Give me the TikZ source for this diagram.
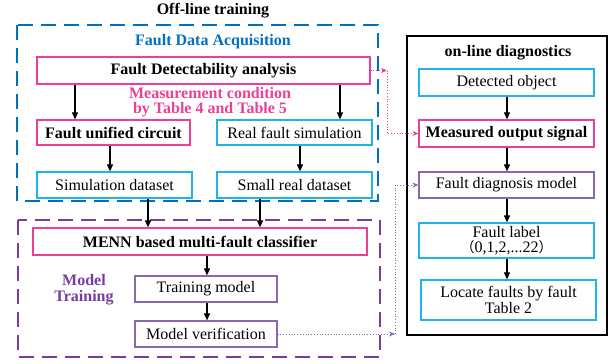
\documentclass[tikz,border=0pt]{standalone}
\usepackage{fontspec}
\setmainfont{Liberation Serif}
\newfontfamily\cjk{Noto Sans CJK SC}
\usetikzlibrary{arrows.meta}
\definecolor{cblue}{RGB}{0,112,192}
\definecolor{ccyan}{RGB}{30,180,232}
\definecolor{cmag}{RGB}{236,64,150}
\definecolor{cpur}{RGB}{120,60,160}
\definecolor{cpurl}{RGB}{135,105,175}
\tikzset{
  box/.style={draw,line width=1.2pt,minimum height=#1,inner sep=1pt,align=center,font=\fontsize{16}{17}\selectfont},
  cbox/.style={box=26pt,draw=ccyan},
  mbox/.style={box=26pt,draw=cmag,font=\fontsize{16}{17}\selectfont\bfseries},
  pbox/.style={box=26pt,draw=cpurl},
  arr/.style={line width=1.1pt,-{Triangle[length=7pt,width=6pt]}},
  mdot/.style={cmag,dotted,line width=0.8pt},
  pdot/.style={cpurl,dotted,line width=0.8pt},
  frame/.style={line width=2pt,dash pattern=on 15pt off 8pt},
  lbl/.style={font=\fontsize{16}{17}\selectfont\bfseries,align=center}
}
\begin{document}
\begin{tikzpicture}[x=1pt,y=-1pt]
\useasboundingbox (0,0) rectangle (614,364);
% frames
\draw[frame,cblue] (17,25) rectangle (378,201);
\draw[frame,cpur] (18,220) rectangle (380,357);
\draw[line width=1.2pt] (407,36) rectangle (607,335);
% labels
\node[lbl] (t1) at (213,11) {Off-line training};
\node[lbl,cblue] (t2) at (213,42) {Fault Data Acquisition};
\node[lbl,cmag,font=\fontsize{16}{15}\selectfont\bfseries] (t3) at (210,102) {Measurement condition\\by Table 4 and Table 5};
\node[lbl,cpur,font=\fontsize{16}{16}\selectfont\bfseries] (t4) at (84,290) {Model\\Training};
\node[lbl] (t5) at (508,53) {on-line diagnostics};
% off-line boxes
\node[mbox,minimum width=333pt,minimum height=27pt] (FDA) at (203.5,70.5) {Fault Detectability analysis};
\node[mbox,minimum width=153pt,minimum height=25pt] (FUC) at (113.5,132.5) {Fault unified circuit};
\node[cbox,minimum width=155pt,minimum height=25pt] (RFS) at (294.5,132.5) {Real fault simulation};
\node[cbox,minimum width=155pt] (SD) at (114.5,185) {Simulation dataset};
\node[cbox,minimum width=155pt] (SRD) at (294.5,185) {Small real dataset};
\node[mbox,minimum width=334pt,minimum height=27pt] (MENN) at (200,241.5) {MENN based multi-fault classifier};
\node[pbox,minimum width=142pt] (TM) at (206,289) {Training model};
\node[pbox,minimum width=142pt] (MV) at (206,334) {Model verification};
% on-line boxes
\node[cbox,minimum width=175pt,minimum height=27pt] (DO) at (506.5,82.5) {Detected object};
\node[mbox,minimum width=175pt,minimum height=27pt] (MOS) at (506.5,133.5) {Measured output signal};
\node[pbox,minimum width=175pt] (FDM) at (506.5,185) {Fault diagnosis model};
\node[cbox,minimum width=175pt,minimum height=35pt,font=\fontsize{16}{15}\selectfont] (FL) at (506.5,240.5) {Fault label\\{\cjk\fontsize{14}{15}\selectfont （}0,1,2,...22{\cjk\fontsize{14}{15}\selectfont ）}};
\node[cbox,minimum width=175pt,minimum height=40pt,font=\fontsize{16}{16}\selectfont] (LF) at (508.5,300) {Locate faults by fault\\Table 2};
% helper coordinates
\coordinate (a1) at (75,0);
\coordinate (a2) at (340,0);
\coordinate (a3) at (110,0);
\coordinate (a4) at (300,0);
\coordinate (a5) at (148,0);
\coordinate (a6) at (260,0);
\coordinate (a7) at (207,0);
\coordinate (a8) at (507,0);
\coordinate (cm1) at (387,70.5);
\coordinate (cp1) at (395,334);
% arrows
\draw[arr] (FDA.south -| a1) -- (FUC.north -| a1);
\draw[arr] (FDA.south -| a2) -- (RFS.north -| a2);
\draw[arr] (FUC.south -| a3) -- (SD.north -| a3);
\draw[arr] (RFS.south -| a4) -- (SRD.north -| a4);
\draw[arr] (SD.south -| a5) -- (MENN.north -| a5);
\draw[arr] (SRD.south -| a6) -- (MENN.north -| a6);
\draw[arr] (MENN.south -| a7) -- (TM.north -| a7);
\draw[arr] (TM.south -| a7) -- (MV.north -| a7);
\draw[arr] (DO.south -| a8) -- (MOS.north -| a8);
\draw[arr] (MOS.south -| a8) -- (FDM.north -| a8);
\draw[arr] (FDM.south -| a8) -- (FL.north -| a8);
\draw[arr] (FL.south -| a8) -- (LF.north -| a8);
% dotted links
\draw[mdot,-{Stealth[length=6pt,width=5pt]}] (FDA.east) -- (cm1);
\draw[mdot,-{Stealth[length=6pt,width=5pt]}] (cm1) |- (MOS.west);
\draw[pdot,-{Stealth[length=6pt,width=5pt]}] (MV.east) -- (cp1);
\draw[pdot,-{Stealth[length=6pt,width=5pt]}] (cp1) |- (FDM.west);
\end{tikzpicture}
\end{document}
